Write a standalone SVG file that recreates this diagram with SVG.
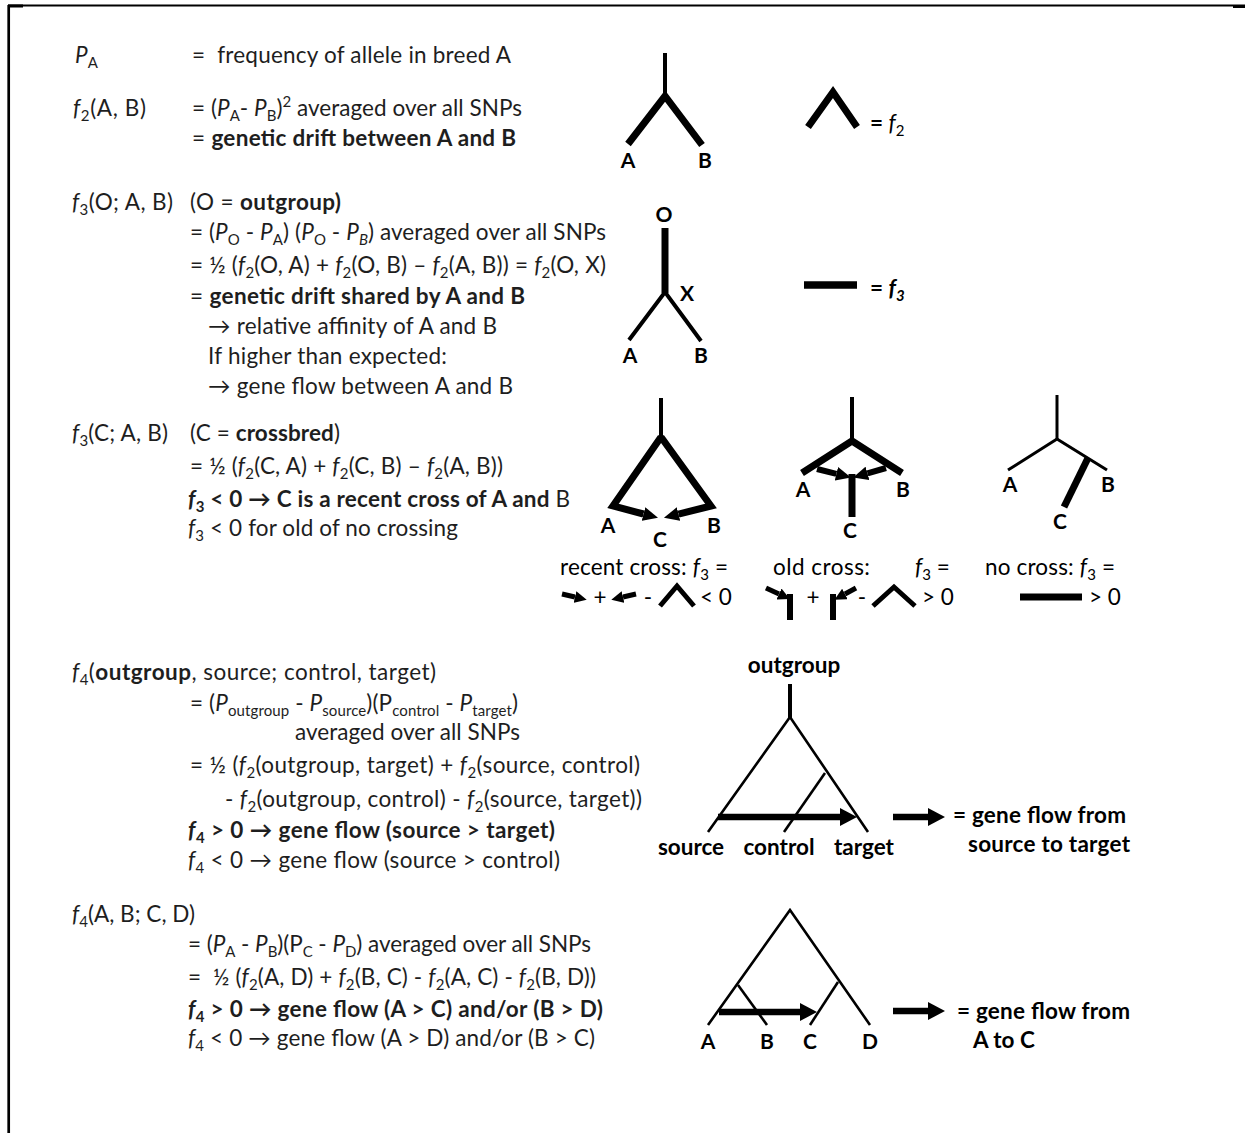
<svg xmlns="http://www.w3.org/2000/svg" width="1245" height="1133" viewBox="0 0 1245 1133">
<defs>
<style>
text{font-family:Lato,"Liberation Sans",sans-serif;font-size:22.5px;fill:#1e1e1e}
.b{font-weight:bold}
.i{font-style:italic}
.sb{font-size:15px;baseline-shift:-5px}
.sp{font-size:15px;baseline-shift:9px}
.lb{font-weight:bold;fill:#000;font-size:21px}
.dg{fill:#000}
.k{stroke:#000;fill:none;stroke-linejoin:miter;stroke-linecap:butt}
</style>
<marker id="ah1" viewBox="0 -9 17 18" refX="0" refY="0" markerWidth="17" markerHeight="18" markerUnits="userSpaceOnUse" orient="auto"><path d="M0,-9 L17,0 L0,9 z" fill="#000"/></marker>
<marker id="ah2" viewBox="0 -7 15 14" refX="0" refY="0" markerWidth="15" markerHeight="14" markerUnits="userSpaceOnUse" orient="auto"><path d="M0,-7 L15,0 L0,7 z" fill="#000"/></marker>
<marker id="ah3" viewBox="0 -6 12 12" refX="0" refY="0" markerWidth="12" markerHeight="12" markerUnits="userSpaceOnUse" orient="auto"><path d="M0,-6 L12,0 L0,6 z" fill="#000"/></marker>
</defs>
<rect width="1245" height="1133" fill="#fff"/>
<g id="frame">
<line x1="8" y1="5.5" x2="1245" y2="5.5" stroke="#000" stroke-width="1.8"/>
<rect x="8" y="4.5" width="15" height="3" fill="#000"/>
<rect x="1233" y="5" width="12" height="3" fill="#000"/>
<line x1="8.7" y1="5" x2="8.7" y2="1133" stroke="#000" stroke-width="2.7"/>
</g>

<g id="text-left">
<text x="75" y="63"><tspan class="i">P</tspan><tspan class="sb">A</tspan></text>
<text x="192" y="63" xml:space="preserve" textLength="319">=  frequency of allele in breed A</text>
<text x="73" y="116" textLength="73"><tspan class="i">f</tspan><tspan class="sb">2</tspan>(A, B)</text>
<text x="192" y="116" xml:space="preserve" textLength="330">= (<tspan class="i">P</tspan><tspan class="sb">A</tspan>- <tspan class="i">P</tspan><tspan class="sb">B</tspan>)<tspan class="sp">2</tspan> averaged over all SNPs</text>
<text x="192" y="146" xml:space="preserve" textLength="324">= <tspan class="b">genetic drift between A and B</tspan></text>

<text x="72" y="210" textLength="101"><tspan class="i">f</tspan><tspan class="sb">3</tspan>(O; A, B)</text>
<text x="190" y="210" xml:space="preserve" textLength="151">(O = <tspan class="b">outgroup)</tspan></text>
<text x="190" y="240" xml:space="preserve" textLength="416">= (<tspan class="i">P</tspan><tspan class="sb">O</tspan> - <tspan class="i">P</tspan><tspan class="sb">A</tspan>) (<tspan class="i">P</tspan><tspan class="sb">O</tspan> - <tspan class="i">P</tspan><tspan class="sb i">B</tspan>) averaged over all SNPs</text>
<text x="190" y="273" xml:space="preserve" textLength="416">= ½ (<tspan class="i">f</tspan><tspan class="sb">2</tspan>(O, A) + <tspan class="i">f</tspan><tspan class="sb">2</tspan>(O, B) – <tspan class="i">f</tspan><tspan class="sb">2</tspan>(A, B)) = <tspan class="i">f</tspan><tspan class="sb">2</tspan>(O, X)</text>
<text x="190" y="304" xml:space="preserve" textLength="335">= <tspan class="b">genetic drift shared by A and B</tspan></text>
<text x="208" y="334" textLength="289">→ relative affinity of A and B</text>
<text x="208" y="364" textLength="239">If higher than expected:</text>
<text x="208" y="394" textLength="305">→ gene flow between A and B</text>

<text x="72" y="441" textLength="96"><tspan class="i">f</tspan><tspan class="sb">3</tspan>(C; A, B)</text>
<text x="190" y="441" xml:space="preserve" textLength="150">(C = <tspan class="b">crossbred</tspan>)</text>
<text x="190" y="474" xml:space="preserve" textLength="313">= ½ (<tspan class="i">f</tspan><tspan class="sb">2</tspan>(C, A) + <tspan class="i">f</tspan><tspan class="sb">2</tspan>(C, B) – <tspan class="i">f</tspan><tspan class="sb">2</tspan>(A, B))</text>
<text x="188" y="507" xml:space="preserve" textLength="382"><tspan class="b i">f</tspan><tspan class="sb b">3</tspan><tspan class="b"> &lt; 0 → C is a recent cross of A and </tspan>B</text>
<text x="188" y="536" xml:space="preserve" textLength="270"><tspan class="i">f</tspan><tspan class="sb">3</tspan> &lt; 0 for old of no crossing</text>

<text x="72" y="680" xml:space="preserve" textLength="364"><tspan class="i">f</tspan><tspan class="sb">4</tspan>(<tspan class="b">outgroup</tspan>, source; control, target)</text>
<text x="190" y="711" xml:space="preserve" textLength="328">= (<tspan class="i">P</tspan><tspan class="sb">outgroup</tspan> - <tspan class="i">P</tspan><tspan class="sb">source</tspan>)(P<tspan class="sb">control</tspan> - <tspan class="i">P</tspan><tspan class="sb">target</tspan>)</text>
<text x="295" y="740" textLength="225">averaged over all SNPs</text>
<text x="190" y="773" xml:space="preserve" textLength="450">= ½ (<tspan class="i">f</tspan><tspan class="sb">2</tspan>(outgroup, target) + <tspan class="i">f</tspan><tspan class="sb">2</tspan>(source, control)</text>
<text x="225" y="807" xml:space="preserve" textLength="417">- <tspan class="i">f</tspan><tspan class="sb">2</tspan>(outgroup, control) - <tspan class="i">f</tspan><tspan class="sb">2</tspan>(source, target))</text>
<text x="188" y="838" xml:space="preserve" class="b" textLength="367"><tspan class="i">f</tspan><tspan class="sb">4</tspan> &gt; 0 → gene flow (source &gt; target)</text>
<text x="188" y="868" xml:space="preserve" textLength="372"><tspan class="i">f</tspan><tspan class="sb">4</tspan> &lt; 0 → gene flow (source &gt; control)</text>

<text x="72" y="922" textLength="123"><tspan class="i">f</tspan><tspan class="sb">4</tspan>(A, B; C, D)</text>
<text x="188" y="952" xml:space="preserve" textLength="403">= (<tspan class="i">P</tspan><tspan class="sb">A</tspan> - <tspan class="i">P</tspan><tspan class="sb">B</tspan>)(P<tspan class="sb">C</tspan> - <tspan class="i">P</tspan><tspan class="sb">D</tspan>) averaged over all SNPs</text>
<text x="188" y="985" xml:space="preserve" textLength="408">=  ½ (<tspan class="i">f</tspan><tspan class="sb">2</tspan>(A, D) + <tspan class="i">f</tspan><tspan class="sb">2</tspan>(B, C) - <tspan class="i">f</tspan><tspan class="sb">2</tspan>(A, C) - <tspan class="i">f</tspan><tspan class="sb">2</tspan>(B, D))</text>
<text x="188" y="1017" xml:space="preserve" class="b" textLength="415"><tspan class="i">f</tspan><tspan class="sb">4</tspan> &gt; 0 → gene flow (A &gt; C) and/or (B &gt; D)</text>
<text x="188" y="1046" xml:space="preserve" textLength="407"><tspan class="i">f</tspan><tspan class="sb">4</tspan> &lt; 0 → gene flow (A &gt; D) and/or (B &gt; C)</text>
</g>

<g id="connectors">
<!-- f2 tree -->
<line class="k" x1="665" y1="53" x2="665" y2="96" stroke-width="4"/>
<path class="k" d="M628,144 L665,96 L702,145" stroke-width="7"/>
<path class="k" d="M808,127 L833,92 L857,127" stroke-width="7"/>
<!-- f3 tree -->
<line class="k" x1="665" y1="228" x2="665" y2="293" stroke-width="7"/>
<path class="k" d="M629,340 L665,292 L701,341" stroke-width="4"/>
<line class="k" x1="804" y1="285" x2="857" y2="285" stroke-width="7.5"/>
<!-- recent cross -->
<line class="k" x1="661" y1="398" x2="661" y2="438" stroke-width="4"/>
<path class="k" d="M661,437 L613,506 L643.5,514" stroke-width="7" marker-end="url(#ah2)"/>
<path class="k" d="M661,437 L711,506 L678.5,514.1" stroke-width="7" marker-end="url(#ah2)"/>
<!-- old cross -->
<line class="k" x1="852" y1="397" x2="852" y2="442" stroke-width="4"/>
<path class="k" d="M802,473 L852,441 L902,473" stroke-width="7"/>
<line class="k" x1="817" y1="469" x2="836.4" y2="473.8" stroke-width="6" marker-end="url(#ah2)"/>
<line class="k" x1="886" y1="468" x2="867.5" y2="473.4" stroke-width="6" marker-end="url(#ah2)"/>
<line class="k" x1="852" y1="474" x2="852" y2="517" stroke-width="7"/>
<!-- no cross -->
<line class="k" x1="1057" y1="395" x2="1057" y2="440" stroke-width="3"/>
<path class="k" d="M1008,470 L1057,439 L1107,470" stroke-width="3"/>
<line class="k" x1="1088" y1="458" x2="1064" y2="507" stroke-width="7"/>
<!-- symbol row -->
<line class="k" x1="562" y1="594" x2="575" y2="597" stroke-width="5" marker-end="url(#ah3)"/>
<line class="k" x1="636" y1="594" x2="623" y2="597" stroke-width="5" marker-end="url(#ah3)"/>
<path class="k" d="M660,606 L677,586 L694,606" stroke-width="5"/>
<line class="k" x1="766" y1="588" x2="779" y2="594" stroke-width="5" marker-end="url(#ah3)"/>
<line class="k" x1="790" y1="594" x2="790" y2="620" stroke-width="6"/>
<line class="k" x1="856" y1="588" x2="845" y2="594" stroke-width="5" marker-end="url(#ah3)"/>
<line class="k" x1="833" y1="594" x2="833" y2="620" stroke-width="6"/>
<path class="k" d="M873,606 L894,587 L915,606" stroke-width="5"/>
<line class="k" x1="1020" y1="597" x2="1082" y2="597" stroke-width="7"/>
<!-- f4 tree 1 -->
<line class="k" x1="790" y1="684" x2="790" y2="718" stroke-width="4"/>
<path class="k" d="M708,832 L790,717 L868,832" stroke-width="2.6"/>
<line class="k" x1="825" y1="773" x2="784" y2="832" stroke-width="2.6"/>
<line class="k" x1="718" y1="817" x2="840" y2="817" stroke-width="6.5" marker-end="url(#ah1)"/>
<line class="k" x1="893" y1="817" x2="928" y2="817" stroke-width="6.5" marker-end="url(#ah1)"/>
<!-- f4 tree 2 -->
<path class="k" d="M708,1025 L790,910 L870,1025" stroke-width="2.6"/>
<line class="k" x1="738" y1="985" x2="767" y2="1025" stroke-width="2.6"/>
<line class="k" x1="838" y1="982" x2="810" y2="1025" stroke-width="2.6"/>
<line class="k" x1="719" y1="1012" x2="800" y2="1012" stroke-width="6.5" marker-end="url(#ah1)"/>
<line class="k" x1="893" y1="1011" x2="928" y2="1011" stroke-width="6.5" marker-end="url(#ah1)"/>
</g>

<g id="labels" text-anchor="middle">
<text class="lb" x="628" y="168">A</text>
<text class="lb" x="705" y="168">B</text>
<text class="lb" x="664" y="222">O</text>
<text class="lb" x="687" y="301">X</text>
<text class="lb" x="630" y="363">A</text>
<text class="lb" x="701" y="363">B</text>
<text class="lb" x="608" y="533">A</text>
<text class="lb" x="714" y="533">B</text>
<text class="lb" x="660" y="547">C</text>
<text class="lb" x="803" y="497">A</text>
<text class="lb" x="903" y="497">B</text>
<text class="lb" x="850" y="538">C</text>
<text class="lb" x="1010" y="492">A</text>
<text class="lb" x="1108" y="492">B</text>
<text class="lb" x="1060" y="529">C</text>
<text class="lb" x="794" y="673" style="font-size:22.5px">outgroup</text>
<text class="lb" x="691" y="855" style="font-size:22.5px">source</text>
<text class="lb" x="779" y="855" style="font-size:22.5px">control</text>
<text class="lb" x="864" y="855" style="font-size:22.5px">target</text>
<text class="lb" x="708" y="1049">A</text>
<text class="lb" x="767" y="1049">B</text>
<text class="lb" x="810" y="1049">C</text>
<text class="lb" x="870" y="1049">D</text>
</g>

<g id="legend-text">
<text class="dg b" x="870" y="131" xml:space="preserve">= <tspan class="i" style="font-weight:normal">f</tspan><tspan class="sb" style="font-weight:normal">2</tspan></text>
<text class="dg b" x="870" y="296" xml:space="preserve">= <tspan class="i">f</tspan><tspan class="sb i">3</tspan></text>
<text class="dg" x="560" y="575" xml:space="preserve" textLength="168">recent cross: <tspan class="i">f</tspan><tspan class="sb">3</tspan> =</text>
<text class="dg" x="773" y="575" textLength="97">old cross:</text>
<text class="dg" x="915" y="575" xml:space="preserve"><tspan class="i">f</tspan><tspan class="sb">3</tspan> =</text>
<text class="dg" x="985" y="575" xml:space="preserve" textLength="130">no cross: <tspan class="i">f</tspan><tspan class="sb">3</tspan> =</text>
<text class="dg" x="600" y="605" text-anchor="middle">+</text>
<text class="dg" x="648" y="605" text-anchor="middle">-</text>
<text class="dg" x="700" y="605">&lt; 0</text>
<text class="dg" x="813" y="605" text-anchor="middle">+</text>
<text class="dg" x="862" y="605" text-anchor="middle">-</text>
<text class="dg" x="922" y="605">&gt; 0</text>
<text class="dg" x="1089" y="605">&gt; 0</text>
<text class="dg b" x="953" y="823" textLength="173">= gene flow from</text>
<text class="dg b" x="968" y="852" textLength="162">source to target</text>
<text class="dg b" x="957" y="1019" textLength="173">= gene flow from</text>
<text class="dg b" x="973" y="1048">A to C</text>
</g>
</svg>
